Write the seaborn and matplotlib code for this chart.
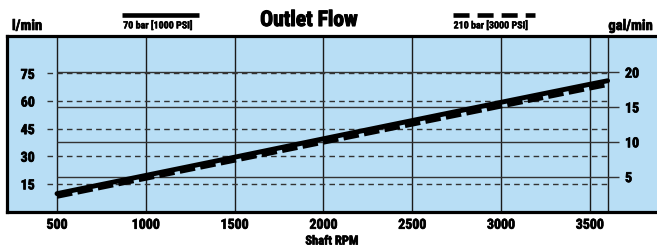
import numpy as np
import pandas as pd
import matplotlib
matplotlib.use("Agg")
import matplotlib.pyplot as plt
from matplotlib.lines import Line2D
import matplotlib.patheffects as pe
import seaborn as sns

# values
rpm = [500, 1000, 1500, 2000, 2500, 3000, 3500, 3600]
flow_70bar = [9.7, 19.6, 29.5, 39.5, 49.4, 59.3, 69.1, 71.0]    # l/min
flow_210bar = [8.1, 17.9, 27.7, 37.5, 47.3, 57.1, 66.9, 68.8]   # l/min
rpm_ticks = [500, 1000, 1500, 2000, 2500, 3000, 3500]
rpm_grid = [500, 1000, 1500, 2000, 2500, 3000, 3500, 3600]
lmin_ticks = [15, 30, 45, 60, 75]
galmin_ticks = [5, 10, 15, 20]
labels = ["70 bar [1000 PSI]", "210 bar [3000 PSI]"]

LPG = 3.785  # litres per US gallon

sns.set_style("white")
plt.rcParams["font.family"] = ["Roboto Condensed", "DejaVu Sans Condensed",
                               "Liberation Sans Narrow", "Roboto", "DejaVu Sans"]
plt.rcParams["font.weight"] = "bold"
plt.rcParams["text.color"] = "black"
plt.rcParams["xtick.color"] = "black"
plt.rcParams["ytick.color"] = "black"
plt.rcParams["axes.labelcolor"] = "black"

heavy = [pe.withStroke(linewidth=0.5, foreground="black")]

W, H = 657, 249
fig = plt.figure(figsize=(W / 100, H / 100), dpi=100)
ax = fig.add_axes([7 / W, (H - 211.5) / H, (W - 7) / W, (211.5 - 36) / H])
ax.set_facecolor("#b8def5")

xlim = (218.5, 3878)
ylim = (0, 95.3)
ax.set_xlim(*xlim)
ax.set_ylim(*ylim)

# vertical grid
ax.vlines(rpm_grid, ylim[0], ylim[1], color="#1a1a1a", lw=1.0, zorder=1)
# l/min dashed lines
ax.hlines(lmin_ticks, 444, 3600, color="#333333", lw=1.0, linestyles=(0, (4, 3)), zorder=1)
# gal/min solid lines
ax.hlines([g * LPG for g in galmin_ticks], 500, 3662, color="#333333", lw=1.0, zorder=1)

df = pd.DataFrame({
    "rpm": rpm * 2,
    "flow": flow_70bar + flow_210bar,
    "pressure": [labels[0]] * len(rpm) + [labels[1]] * len(rpm),
})
sns.lineplot(data=df, x="rpm", y="flow", hue="pressure", style="pressure",
             palette=["black", "black"], dashes=[(None, None), (3.5, 1.2)],
             linewidth=3.2, legend=False, ax=ax, zorder=3)
ax.lines[-1].set_dashes((3.5, 1.2))
ax.lines[-2].set_linewidth(3.5)

ax.set_xlabel("Shaft RPM", fontsize=9, fontweight="bold", labelpad=2,
              path_effects=heavy)
ax.set_ylabel("")
ax.set_xticks(rpm_ticks)
ax.set_xticklabels([str(t) for t in rpm_ticks], fontsize=10, fontweight="bold")
ax.set_yticks(lmin_ticks)
ax.set_yticklabels([str(t) for t in lmin_ticks], fontsize=10, fontweight="bold")
ax.tick_params(axis="x", length=0, pad=4.5)
ax.tick_params(axis="y", length=0, pad=-20)

for s in ["left", "top", "bottom"]:
    ax.spines[s].set_linewidth(2.3)
    ax.spines[s].set_color("black")
ax.spines["right"].set_visible(False)

ax2 = ax.twinx()
ax2.set_ylim(ylim[0] / LPG, ylim[1] / LPG)
ax2.set_yticks(galmin_ticks)
ax2.set_yticklabels([str(t) for t in galmin_ticks], fontsize=10, fontweight="bold")
ax2.tick_params(axis="y", length=0, pad=-23)
for s in ax2.spines.values():
    s.set_visible(False)
for t in ax2.get_yticklabels():
    t.set_horizontalalignment("left")

for t in ax.get_xticklabels() + ax.get_yticklabels() + ax2.get_yticklabels():
    t.set_path_effects(heavy)

# header texts
fig.text(309 / W, 1 - 20 / H, "Outlet Flow", fontsize=15.5, fontweight="bold",
         ha="center", va="center", path_effects=[pe.withStroke(linewidth=0.8, foreground="black")])
fig.text(12 / W, 1 - 26 / H, "l/min", fontsize=10.5, fontweight="bold", ha="left", va="center",
         path_effects=heavy)
fig.text(653 / W, 1 - 26 / H, "gal/min", fontsize=10.5, fontweight="bold", ha="right", va="center",
         path_effects=heavy)

# legend samples
fig.add_artist(Line2D([122 / W, 199 / W], [1 - 15.5 / H, 1 - 15.5 / H], color="black",
                      lw=3.3, solid_capstyle="butt"))
fig.add_artist(Line2D([453 / W, 535 / W], [1 - 15.5 / H, 1 - 15.5 / H], color="black",
                      lw=3.3, dashes=(3.5, 1.75), dash_capstyle="butt"))
thin = [pe.withStroke(linewidth=0.3, foreground="black")]
fig.text(158 / W, 1 - 25 / H, labels[0], fontsize=7.2, fontweight="bold", ha="center", va="center",
         path_effects=thin)
fig.text(491 / W, 1 - 25 / H, labels[1], fontsize=7.2, fontweight="bold", ha="center", va="center",
         path_effects=thin)

fig.savefig("out.png", dpi=100, facecolor="white")
